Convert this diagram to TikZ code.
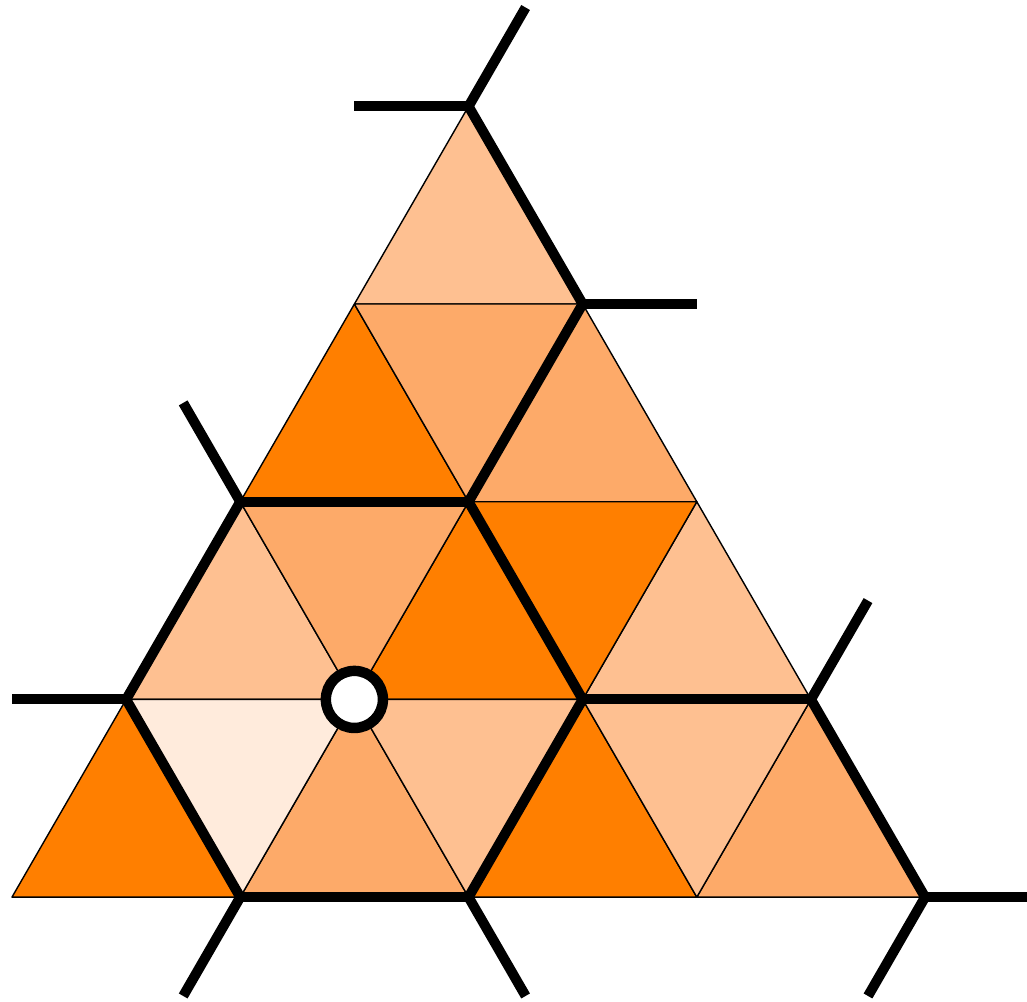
\documentclass[tikz,border=0pt]{standalone}
\usetikzlibrary{positioning}

\definecolor{tridark}{RGB}{255,127,0}
\definecolor{trimid}{RGB}{253,170,105}
\definecolor{trilight}{RGB}{254,192,145}
\definecolor{tripale}{RGB}{255,235,220}

\begin{document}
\begin{tikzpicture}[
  x={(2cm,0cm)},y={(1cm,1.7320508cm)},
  cell/.style={draw=black,line width=0.35pt,line join=round},
  wall/.style={draw=black,line width=2.5pt,line cap=butt},
  hub/.style={circle,draw=black,fill=white,line width=2.6pt,
    minimum size=5mm,inner sep=0pt}
]
  \useasboundingbox (-0.105cm,-0.911cm) rectangle (8.893cm,7.860cm);

  % lattice points p<i><j>
  \foreach \j in {0,...,4} {
    \pgfmathtruncatemacro\n{4-\j}
    \foreach \i in {0,...,\n}
      \coordinate (p\i\j) at (\i,\j);
  }

  % upward cells, named by their left corner
  \foreach \i/\j/\c in {0/0/tridark,1/0/trimid,2/0/tridark,3/0/trimid,
                        0/1/trilight,1/1/tridark,2/1/trilight,
                        0/2/tridark,1/2/trimid,
                        0/3/trilight}
    \filldraw[cell,fill=\c] (p\i\j) -- ++(1,0) -- ++(-1,1) -- cycle;

  % downward cells, named by their lower corner
  \foreach \i/\j/\c in {1/0/tripale,2/0/trilight,3/0/trilight,
                        1/1/trimid,2/1/tridark,
                        1/2/trimid}
    \filldraw[cell,fill=\c] (p\i\j) -- ++(0,1) -- ++(-1,0) -- cycle;

  % thick walls
  \foreach \a/\b in {p04/p13,p13/p12,p12/p02,p02/p01,p01/p10,p10/p20,
                     p20/p21,p21/p12,p21/p31,p31/p40}
    \draw[wall] (\a) -- (\b);

  % open ends
  \draw[wall] (p04) -- ++(-0.5,0);
  \draw[wall] (p04) -- ++(0,0.5);
  \draw[wall] (p13) -- ++(0.5,0);
  \draw[wall] (p02) -- ++(-0.5,0.5);
  \draw[wall] (p01) -- ++(-0.5,0);
  \draw[wall] (p10) -- ++(0,-0.5);
  \draw[wall] (p20) -- ++(0.5,-0.5);
  \draw[wall] (p31) -- ++(0,0.5);
  \draw[wall] (p40) -- ++(0.5,0);
  \draw[wall] (p40) -- ++(0,-0.5);

  \node[hub] (center) at (p11) {};
\end{tikzpicture}
\end{document}
